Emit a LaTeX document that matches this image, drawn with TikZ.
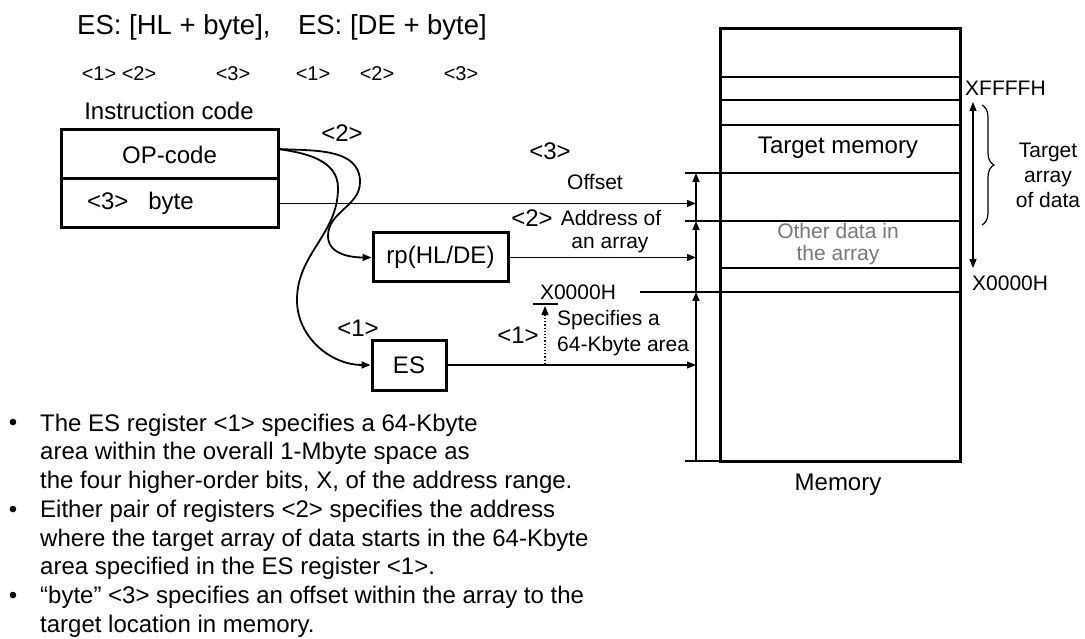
\documentclass[tikz,border=0pt]{standalone}
\usepackage{fontspec}
\setmainfont{Liberation Sans}
\usetikzlibrary{arrows.meta, positioning, calc, decorations.pathreplacing}
\definecolor{othergray}{RGB}{120,120,120}

\begin{document}
\begin{tikzpicture}[x=1pt, y=-1pt,
  every node/.style={inner sep=0pt, font=\fontsize{24}{28.5}\selectfont},
  small/.style={font=\fontsize{21}{26}\selectfont},
  regbox/.style={draw, line width=3pt, minimum height=49pt},
  arr/.style={-{Triangle[length=9pt,width=7pt]}, line width=1.2pt},
  link/.style={line width=1.8pt},
  row/.style={line width=1.4pt}]
\useasboundingbox (0,0) rectangle (1085,639);

\node[anchor=west, font=\fontsize{27.5}{30}\selectfont] (title) at (77,27) {ES: [HL + byte],\quad ES: [DE + byte]};
\foreach \x/\lab [count=\i] in {99/1, 139/2, 233/3, 313/1, 377/2, 461/3}
  \node[font=\fontsize{20}{24}\selectfont] (num\i) at (\x,74) {<\lab>};

\node (icode) at (169,111) {Instruction code};
\node[regbox, minimum width=217pt] (op) at (169.5,154.5) {OP-code};
\node[regbox, text width=165pt, align=left, inner xsep=26pt] (bytef) at (169.5,203.5) {<3>\hspace{20pt}byte};
\node[regbox, minimum width=135pt] (rp) at (440.5,257.5) {rp(HL/DE)};
\node[regbox, minimum width=74pt, minimum height=50pt] (es) at (409,365) {ES};

\node[draw, line width=3pt, minimum width=240pt, minimum height=432pt] (mem) at (840,245) {};
\foreach \y in {77,100,125,173,221,268,292}
  \draw[row] (720,\y) -- (960,\y);

\coordinate (t1) at (696,173);
\coordinate (t2) at (696,221);
\coordinate (t3) at (696,292);
\coordinate (t4) at (696,461);
\draw[row] (685,173) -- (720,173);
\draw[row] (685,221) -- (720,221);
\draw[row] (685,461) -- (730,461);
\draw[arr, line width=1.5pt] (t2) -- (t1);
\draw[arr, line width=1.5pt] (t3) -- (t2);
\draw[arr, line width=1.5pt] (t4) -- (t3);

\draw[arr] (bytef.east) -- (bytef.east -| t1);
\draw[arr] (rp.east) -- (rp.east -| t1);
\draw[arr] (es.east) -- (es.east -| t1);

\coordinate (opout) at (278,149);
\draw[arr, link] (opout) to[out=-3,in=90] (360,182) to[out=-90,in=90] (328,236) to[out=-90,in=180] (rp.west);
\draw[arr, link] (opout) to[out=-8,in=90] (338,188) to[out=-90,in=90] (297,300) to[out=-90,in=180] (es.west);

\node (two) at (342,133) {<2>};
\node (three) at (550,151) {<3>};
\node[small] (offset) at (595,182) {Offset};
\node (twob) at (532,218) {<2>};
\node[small] (addr) at (611,218) {Address of};
\node[small] (anarr) at (610,245) {an array};
\node[small] (xlow) at (578,292) {X0000H};
\draw[line width=1.2pt] (640,292) -- (725,292);
\draw[line width=1.2pt] (533,304) -- (558,304);
\draw[arr, dotted] (545,364) -- (545,306);
\node (oneb) at (518,335) {<1>};
\node[small, anchor=west, align=left] (spec) at (557,333) {Specifies a\\64-Kbyte area};
\node (onea) at (358,328) {<1>};

\node (tmem) at (838,148) {Target memory};
\node[small, text=othergray, align=center, font=\fontsize{21}{22}\selectfont] (other) at (838,244) {Other data in\\the array};
\node[small, anchor=west] (xhigh) at (965,88) {XFFFFH};
\node[small, anchor=west] (xlo) at (972,283) {X0000H};
\draw[{Triangle[length=9pt,width=7pt]}-{Triangle[length=9pt,width=7pt]}, line width=1.2pt] (973,102) -- (973,268);
\draw[decorate, decoration={brace, amplitude=12pt}, line width=1.2pt] (982,105) -- (982,225);
\node[small, align=center, font=\fontsize{21}{25}\selectfont] (tarr) at (1048,175) {Target\\array\\of data};
\node (memlab) at (838,485) {Memory};

\foreach \y/\name in {425/d1, 512/d2, 598/d3}
  \node (\name) at (13,\y) {•};
\node[anchor=west, align=left] (item1) at (40,453.5) {The ES register <1> specifies a 64-Kbyte\\area within the overall 1-Mbyte space as\\the four higher-order bits, X, of the address range.};
\node[anchor=west, align=left] (item2) at (40,540) {Either pair of registers <2> specifies the address\\where the target array of data starts in the 64-Kbyte\\area specified in the ES register <1>.};
\node[anchor=west, align=left] (item3) at (40,612) {“byte” <3> specifies an offset within the array to the\\target location in memory.};
\end{tikzpicture}
\end{document}
